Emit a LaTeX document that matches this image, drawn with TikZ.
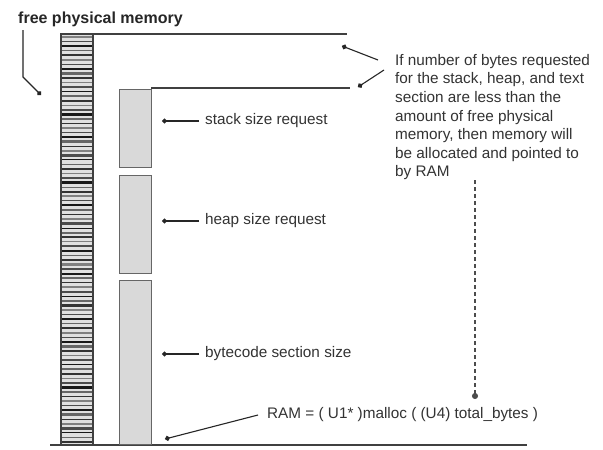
\documentclass[tikz,border=0pt]{standalone}
\usepackage{fontspec}
\setmainfont{Liberation Sans}
\usetikzlibrary{arrows.meta}
\begin{document}
\begin{tikzpicture}[x=1pt,y=-1pt,
  lbl/.style={font=\fontsize{15.3}{18.6}\selectfont, text=black!80, inner sep=0pt},
  title/.style={font=\fontsize{16}{18}\selectfont\bfseries, text=black!85, inner sep=0pt},
  rule/.style={draw=black!75, line width=1.1pt},
  seg/.style={draw=black!60, fill=black!15, line width=1.2pt},
  pointer/.style={draw=black!85, line width=1.1pt, -{Circle[length=5pt]}},
  dpointer/.style={draw=black!70, line width=1.1pt, dash pattern=on 4pt off 3pt, -{Circle[length=6pt]}}]
\useasboundingbox (0,0) rectangle (603,450);
\fill[white] (0,0) rectangle (603,450);
% striped free-memory column
\fill[black!12] (61,34) rectangle (93,445);
\foreach \i in {0,...,89} {
  \pgfmathtruncatemacro{\g}{50+mod(\i*37,5)*10}
  \pgfmathsetmacro{\w}{1.2+mod(\i*13,3)*0.6}
  \draw[black!\g, line width=\w pt] (61,{37+\i*4.55}) -- (93,{37+\i*4.55});
}
\draw[black!75, line width=1.1pt] (61,34) rectangle (93,445);
% rules
\coordinate (topR) at (347,34);
\coordinate (midR) at (350,88);
\coordinate (botL) at (50,445);
\coordinate (botR) at (527,445);
\draw[rule] (93,34) -- (topR);
\draw[rule] (151,88) -- (midR);
\draw[rule] (botL) -- (botR);
% segments
\node[seg, minimum width=32pt, minimum height=78pt, anchor=north west] (stack) at (119,89) {};
\node[seg, minimum width=32pt, minimum height=98pt, anchor=north west] (heap) at (119,175) {};
\node[seg, minimum width=32pt, minimum height=164pt, anchor=north west] (code) at (119,280) {};
% title
\node[title, anchor=west] (free) at (18,19) {free physical memory};
\coordinate (freeA) at (23,30);
\coordinate (freeB) at (23,77);
\coordinate (freeD) at (41,95);
\draw[pointer] (freeA) -- (freeB) -- (freeD);
% labels
\node[lbl, anchor=west] (lstack) at (205,121) {stack size request};
\node[lbl, anchor=west] (lheap) at (205,221) {heap size request};
\node[lbl, anchor=west] (lcode) at (205,354) {bytecode section size};
\coordinate (dstack) at (162,121);
\coordinate (dheap) at (162,221);
\coordinate (dcode) at (162,354);
\draw[pointer] (199,121) -- (dstack);
\draw[pointer] (199,221) -- (dheap);
\draw[pointer] (199,354) -- (dcode);
% explanation
\node[lbl, anchor=north west, align=left] (expl) at (395,54) {If number of bytes requested\\for the stack, heap, and text\\section are less than the\\amount of free physical\\memory, then memory will\\be allocated and pointed to\\by RAM};
\coordinate (e1) at (378,60);
\coordinate (e2) at (384,70);
\coordinate (d1) at (342,46);
\coordinate (d2) at (358,87);
\draw[pointer] (e1) -- (d1);
\draw[pointer] (e2) -- (d2);
% RAM
\node[lbl, anchor=west] (ram) at (267,415) {RAM = ( U1* )malloc ( (U4) total\_bytes )};
\coordinate (ramA) at (258,415);
\coordinate (ramD) at (165,439);
\draw[pointer] (ramA) -- (ramD);
\coordinate (dashA) at (475,180);
\coordinate (dashD) at (475,399);
\draw[dpointer] (dashA) -- (dashD);
\end{tikzpicture}
\end{document}
